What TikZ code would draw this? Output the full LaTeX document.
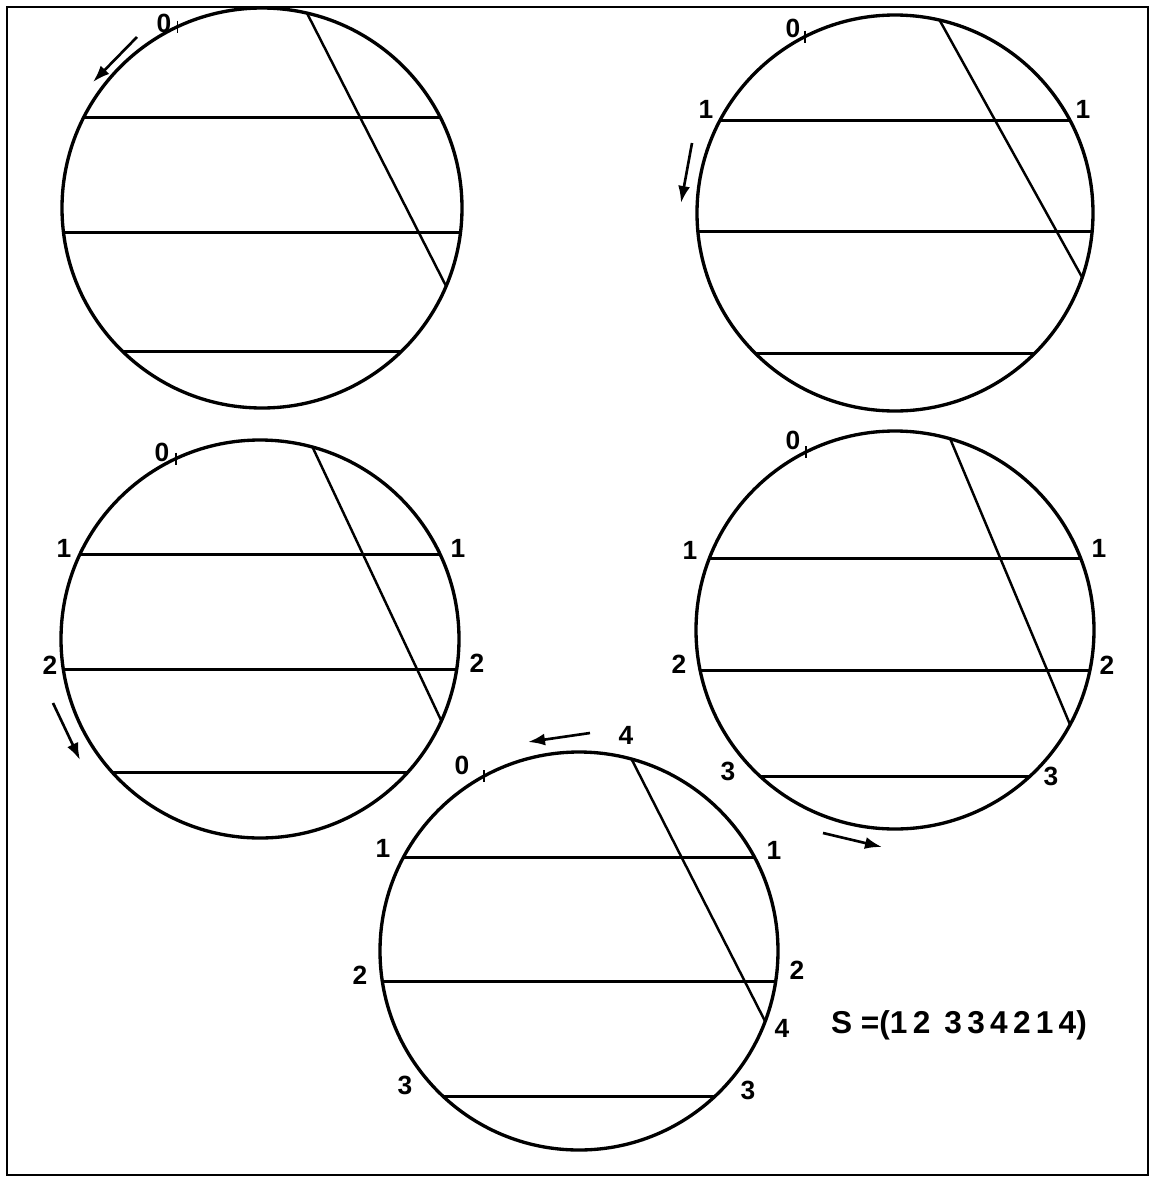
\documentclass[tikz,border=0pt]{standalone}
\usepackage{fontspec}
\setmainfont{Liberation Sans}
\usetikzlibrary{arrows.meta}

\tikzset{
  rim/.style={line width=1.9pt},
  chord/.style={line width=1.7pt},
  slant/.style={line width=1.4pt},
  tick/.style={line width=1.1pt},
  lbl/.style={font=\fontsize{15}{17}\selectfont\bfseries, inner sep=0pt},
  dirarrow/.style={-{Latex[length=3.4mm,width=2.4mm]}, line width=1.5pt},
}

\begin{document}
\begin{tikzpicture}[x=0.02cm, y=0.02cm]
  \useasboundingbox (0,0) rectangle (1159,-1177);
  % Cadre
  \draw[line width=1.6pt] (7,-7) rectangle (1148,-1175);

  % Cercle 1 (haut gauche)
  \begin{scope}[shift={(262,-208)}]
    \draw[rim] (0,0) circle[radius=200];
    \draw[chord] (153:200) -- (27:200);
    \draw[chord] (187:200) -- (-7:200);
    \draw[chord] (226:200) -- (-46:200);
    \draw[slant] (77:200) -- (-23:200);
    \draw[tick] (115:200) ++(0,6) -- ++(0,-12);
    \node[lbl] (a0) at (-98,185) {0};
    \draw[dirarrow] (-125,171) -- (-169,126);
  \end{scope}

  % Cercle 2 (haut droite)
  \begin{scope}[shift={(895,-213)}]
    \draw[rim] (0,0) circle[radius=198];
    \draw[chord] (152:198) -- (28:198);
    \draw[chord] (185.5:198) -- (-5.5:198);
    \draw[chord] (225:198) -- (-45:198);
    \draw[slant] (77:198) -- (-19:198);
    \draw[tick] (117:198) ++(0,6) -- ++(0,-12);
    \node[lbl] (b0) at (-102,185) {0};
    \node[lbl] (b1l) at (-189,104) {1};
    \node[lbl] (b1r) at (188,104) {1};
    \draw[dirarrow] (-203,70) -- (-214,10);
  \end{scope}

  % Cercle 3 (milieu gauche)
  \begin{scope}[shift={(260,-639)}]
    \draw[rim] (0,0) circle[radius=199];
    \draw[chord] (155:199) -- (25:199);
    \draw[chord] (188.7:199) -- (-8.7:199);
    \draw[chord] (222.3:199) -- (-42.3:199);
    \draw[slant] (74.7:199) -- (-24.3:199);
    \draw[tick] (115:199) ++(0,6) -- ++(0,-12);
    \node[lbl] (c0) at (-98,187) {0};
    \node[lbl] (c1l) at (-196,91) {1};
    \node[lbl] (c1r) at (198,91) {1};
    \node[lbl] (c2l) at (-210,-26) {2};
    \node[lbl] (c2r) at (217,-24) {2};
    \draw[dirarrow] (-207,-64) -- (-180,-121);
  \end{scope}

  % Cercle 4 (milieu droite)
  \begin{scope}[shift={(895,-630)}]
    \draw[rim] (0,0) circle[radius=199];
    \draw[chord] (158.8:199) -- (21.2:199);
    \draw[chord] (191.6:199) -- (-11.6:199);
    \draw[chord] (227.6:199) -- (-47.6:199);
    \draw[slant] (73.9:199) -- (-28.4:199);
    \draw[tick] (116.6:199) ++(0,6) -- ++(0,-12);
    \node[lbl] (d0) at (-102,190) {0};
    \node[lbl] (d1l) at (-205,80) {1};
    \node[lbl] (d1r) at (204,82) {1};
    \node[lbl] (d2l) at (-216,-34) {2};
    \node[lbl] (d2r) at (212,-35) {2};
    \node[lbl] (d3l) at (-167,-141) {3};
    \node[lbl] (d3r) at (156,-146) {3};
    \draw[dirarrow] (-72,-203) -- (-13,-217);
  \end{scope}

  % Cercle 5 (bas)
  \begin{scope}[shift={(579,-951)}]
    \draw[rim] (0,0) circle[radius=199];
    \draw[chord] (152.1:199) -- (27.9:199);
    \draw[chord] (188.7:199) -- (-8.7:199);
    \draw[chord] (226.8:199) -- (-46.8:199);
    \draw[slant] (74.7:199) -- (-20.7:199);
    \draw[tick] (118.6:199) ++(0,6) -- ++(0,-12);
    \node[lbl] (e0) at (-117,186) {0};
    \node[lbl] (e1l) at (-196,103) {1};
    \node[lbl] (e1r) at (195,101) {1};
    \node[lbl] (e2l) at (-219,-24) {2};
    \node[lbl] (e2r) at (218,-19) {2};
    \node[lbl] (e3l) at (-174,-134) {3};
    \node[lbl] (e3r) at (169,-139) {3};
    \node[lbl] (e4r) at (203,-77) {4};
    \node[lbl] (e4t) at (47,216) {4};
    \draw[dirarrow] (11,218) -- (-51,209);
  \end{scope}

  % Suite
  \node[font=\fontsize{18}{22}\selectfont\bfseries, inner sep=0pt] (seq) at (959,-1025)
    {S =(1\,2\;\,3\,3\,4\,2\,1\,4)};
\end{tikzpicture}
\end{document}
